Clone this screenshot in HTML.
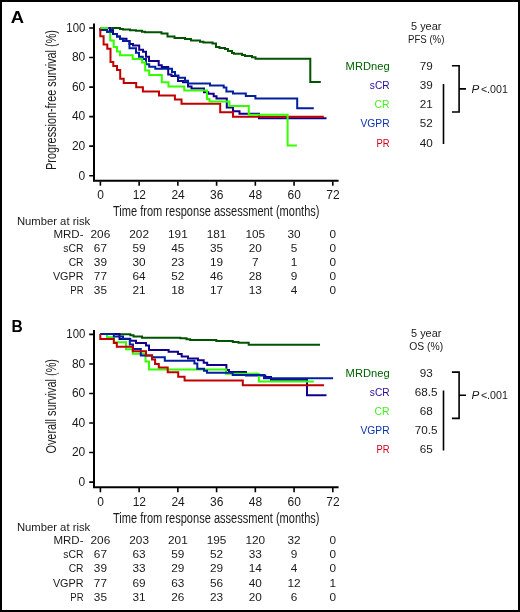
<!DOCTYPE html>
<html><head><meta charset="utf-8"><style>
html,body{margin:0;padding:0;background:#fff;}
svg{display:block;will-change:transform;}
text{font-family:"Liberation Sans", sans-serif;}
</style></head><body>
<svg width="520" height="612" viewBox="0 0 520 612">
<rect x="0" y="0" width="520" height="612" fill="#fff"/>
<g transform="translate(0,0)">
<text x="10.8" y="22.9" font-size="17.4" font-weight="bold" fill="#000" textLength="13.3" lengthAdjust="spacingAndGlyphs">A</text>
<path d="M94,23.5 V181.8 M93,180.8 H338.6" stroke="#000" stroke-width="2" fill="none"/>
<path d="M89.2,28.0 H93.5 M89.2,57.54 H93.5 M89.2,87.08 H93.5 M89.2,116.62 H93.5 M89.2,146.16 H93.5 M89.2,175.7 H93.5 M100.40,181.5 V185.8 M139.13,181.5 V185.8 M177.87,181.5 V185.8 M216.60,181.5 V185.8 M255.33,181.5 V185.8 M294.06,181.5 V185.8 M332.80,181.5 V185.8 " stroke="#000" stroke-width="1.6" fill="none"/>
<text x="85.30" y="31.80" font-size="12" text-anchor="end" textLength="19.0" lengthAdjust="spacingAndGlyphs" fill="#1a1a1a">100</text>
<text x="85.30" y="61.34" font-size="12" text-anchor="end" fill="#1a1a1a">80</text>
<text x="85.30" y="90.88" font-size="12" text-anchor="end" fill="#1a1a1a">60</text>
<text x="85.30" y="120.42" font-size="12" text-anchor="end" fill="#1a1a1a">40</text>
<text x="85.30" y="149.96" font-size="12" text-anchor="end" fill="#1a1a1a">20</text>
<text x="85.30" y="179.50" font-size="12" text-anchor="end" fill="#1a1a1a">0</text>
<text x="100.60" y="199.30" font-size="12" text-anchor="middle" fill="#1a1a1a">0</text>
<text x="139.33" y="199.30" font-size="12" text-anchor="middle" fill="#1a1a1a">12</text>
<text x="178.07" y="199.30" font-size="12" text-anchor="middle" fill="#1a1a1a">24</text>
<text x="216.80" y="199.30" font-size="12" text-anchor="middle" fill="#1a1a1a">36</text>
<text x="255.53" y="199.30" font-size="12" text-anchor="middle" fill="#1a1a1a">48</text>
<text x="294.26" y="199.30" font-size="12" text-anchor="middle" fill="#1a1a1a">60</text>
<text x="333.00" y="199.30" font-size="12" text-anchor="middle" fill="#1a1a1a">72</text>
<text x="113.00" y="216.30" font-size="14.9" textLength="206.5" lengthAdjust="spacingAndGlyphs" fill="#1a1a1a">Time from response assessment (months)</text>
<text transform="translate(55.7,169.9) rotate(-90)" x="0" y="0" font-size="14.8" textLength="139.8" lengthAdjust="spacingAndGlyphs" fill="#1a1a1a">Progression-free survival (%)</text>
<text x="426.20" y="30.40" font-size="11.7" text-anchor="middle" textLength="30.3" lengthAdjust="spacingAndGlyphs" fill="#1a1a1a">5 year</text>
<text x="426.20" y="43.40" font-size="11.7" text-anchor="middle" textLength="36.4" lengthAdjust="spacingAndGlyphs" fill="#1a1a1a">PFS (%)</text>
<text x="389.60" y="70.30" font-size="11.7" text-anchor="end" textLength="44.0" lengthAdjust="spacingAndGlyphs" fill="#006000">MRDneg</text>
<text x="426.20" y="70.30" font-size="11.7" text-anchor="middle" fill="#1a1a1a">79</text>
<text x="389.60" y="89.35" font-size="11.7" text-anchor="end" textLength="19.8" lengthAdjust="spacingAndGlyphs" fill="#2a0aa0">sCR</text>
<text x="426.20" y="89.35" font-size="11.7" text-anchor="middle" fill="#1a1a1a">39</text>
<text x="389.60" y="108.40" font-size="11.7" text-anchor="end" textLength="15.0" lengthAdjust="spacingAndGlyphs" fill="#44f020">CR</text>
<text x="426.20" y="108.40" font-size="11.7" text-anchor="middle" fill="#1a1a1a">21</text>
<text x="389.60" y="127.45" font-size="11.7" text-anchor="end" textLength="29.200000000000003" lengthAdjust="spacingAndGlyphs" fill="#0a30b0">VGPR</text>
<text x="426.20" y="127.45" font-size="11.7" text-anchor="middle" fill="#1a1a1a">52</text>
<text x="389.60" y="146.50" font-size="11.7" text-anchor="end" textLength="13.1" lengthAdjust="spacingAndGlyphs" fill="#d0001c">PR</text>
<text x="426.20" y="146.50" font-size="11.7" text-anchor="middle" fill="#1a1a1a">40</text>
<path d="M443.5,84 V144 M451.9,65.75 H459.1 V112 H451.9 M459.1,88.85 H466" stroke="#000" stroke-width="1.6" fill="none"/>
<text x="471.6" y="92.8" font-size="11.7" font-style="italic" fill="#1a1a1a">P</text>
<text x="480.90" y="92.80" font-size="11.7" textLength="27" lengthAdjust="spacingAndGlyphs" fill="#1a1a1a">&lt;.001</text>
<text x="16.90" y="224.80" font-size="11.8" textLength="73.3" lengthAdjust="spacingAndGlyphs" fill="#1a1a1a">Number at risk</text>
<text x="83.50" y="237.60" font-size="11.8" text-anchor="end" textLength="30.1" lengthAdjust="spacingAndGlyphs" fill="#1a1a1a">MRD-</text>
<text x="100.40" y="237.60" font-size="11.8" text-anchor="middle" fill="#1a1a1a">206</text>
<text x="139.13" y="237.60" font-size="11.8" text-anchor="middle" fill="#1a1a1a">202</text>
<text x="177.87" y="237.60" font-size="11.8" text-anchor="middle" fill="#1a1a1a">191</text>
<text x="216.60" y="237.60" font-size="11.8" text-anchor="middle" fill="#1a1a1a">181</text>
<text x="255.33" y="237.60" font-size="11.8" text-anchor="middle" fill="#1a1a1a">105</text>
<text x="294.06" y="237.60" font-size="11.8" text-anchor="middle" fill="#1a1a1a">30</text>
<text x="332.80" y="237.60" font-size="11.8" text-anchor="middle" fill="#1a1a1a">0</text>
<text x="83.50" y="251.80" font-size="11.8" text-anchor="end" textLength="20.2" lengthAdjust="spacingAndGlyphs" fill="#1a1a1a">sCR</text>
<text x="100.40" y="251.80" font-size="11.8" text-anchor="middle" fill="#1a1a1a">67</text>
<text x="139.13" y="251.80" font-size="11.8" text-anchor="middle" fill="#1a1a1a">59</text>
<text x="177.87" y="251.80" font-size="11.8" text-anchor="middle" fill="#1a1a1a">45</text>
<text x="216.60" y="251.80" font-size="11.8" text-anchor="middle" fill="#1a1a1a">35</text>
<text x="255.33" y="251.80" font-size="11.8" text-anchor="middle" fill="#1a1a1a">20</text>
<text x="294.06" y="251.80" font-size="11.8" text-anchor="middle" fill="#1a1a1a">5</text>
<text x="332.80" y="251.80" font-size="11.8" text-anchor="middle" fill="#1a1a1a">0</text>
<text x="83.50" y="266.00" font-size="11.8" text-anchor="end" textLength="14.8" lengthAdjust="spacingAndGlyphs" fill="#1a1a1a">CR</text>
<text x="100.40" y="266.00" font-size="11.8" text-anchor="middle" fill="#1a1a1a">39</text>
<text x="139.13" y="266.00" font-size="11.8" text-anchor="middle" fill="#1a1a1a">30</text>
<text x="177.87" y="266.00" font-size="11.8" text-anchor="middle" fill="#1a1a1a">23</text>
<text x="216.60" y="266.00" font-size="11.8" text-anchor="middle" fill="#1a1a1a">19</text>
<text x="255.33" y="266.00" font-size="11.8" text-anchor="middle" fill="#1a1a1a">7</text>
<text x="294.06" y="266.00" font-size="11.8" text-anchor="middle" fill="#1a1a1a">1</text>
<text x="332.80" y="266.00" font-size="11.8" text-anchor="middle" fill="#1a1a1a">0</text>
<text x="83.50" y="280.20" font-size="11.8" text-anchor="end" textLength="30.6" lengthAdjust="spacingAndGlyphs" fill="#1a1a1a">VGPR</text>
<text x="100.40" y="280.20" font-size="11.8" text-anchor="middle" fill="#1a1a1a">77</text>
<text x="139.13" y="280.20" font-size="11.8" text-anchor="middle" fill="#1a1a1a">64</text>
<text x="177.87" y="280.20" font-size="11.8" text-anchor="middle" fill="#1a1a1a">52</text>
<text x="216.60" y="280.20" font-size="11.8" text-anchor="middle" fill="#1a1a1a">46</text>
<text x="255.33" y="280.20" font-size="11.8" text-anchor="middle" fill="#1a1a1a">28</text>
<text x="294.06" y="280.20" font-size="11.8" text-anchor="middle" fill="#1a1a1a">9</text>
<text x="332.80" y="280.20" font-size="11.8" text-anchor="middle" fill="#1a1a1a">0</text>
<text x="83.50" y="294.40" font-size="11.8" text-anchor="end" textLength="13.2" lengthAdjust="spacingAndGlyphs" fill="#1a1a1a">PR</text>
<text x="100.40" y="294.40" font-size="11.8" text-anchor="middle" fill="#1a1a1a">35</text>
<text x="139.13" y="294.40" font-size="11.8" text-anchor="middle" fill="#1a1a1a">21</text>
<text x="177.87" y="294.40" font-size="11.8" text-anchor="middle" fill="#1a1a1a">18</text>
<text x="216.60" y="294.40" font-size="11.8" text-anchor="middle" fill="#1a1a1a">17</text>
<text x="255.33" y="294.40" font-size="11.8" text-anchor="middle" fill="#1a1a1a">13</text>
<text x="294.06" y="294.40" font-size="11.8" text-anchor="middle" fill="#1a1a1a">4</text>
<text x="332.80" y="294.40" font-size="11.8" text-anchor="middle" fill="#1a1a1a">0</text>
</g>
<g transform="translate(0,306.4)">
<text x="11.4" y="25.799999999999997" font-size="17.4" font-weight="bold" fill="#000" textLength="11.2" lengthAdjust="spacingAndGlyphs">B</text>
<path d="M94,23.5 V181.8 M93,180.8 H338.6" stroke="#000" stroke-width="2" fill="none"/>
<path d="M89.2,28.0 H93.5 M89.2,57.54 H93.5 M89.2,87.08 H93.5 M89.2,116.62 H93.5 M89.2,146.16 H93.5 M89.2,175.7 H93.5 M100.40,181.5 V185.8 M139.13,181.5 V185.8 M177.87,181.5 V185.8 M216.60,181.5 V185.8 M255.33,181.5 V185.8 M294.06,181.5 V185.8 M332.80,181.5 V185.8 " stroke="#000" stroke-width="1.6" fill="none"/>
<text x="85.30" y="31.80" font-size="12" text-anchor="end" textLength="19.0" lengthAdjust="spacingAndGlyphs" fill="#1a1a1a">100</text>
<text x="85.30" y="61.34" font-size="12" text-anchor="end" fill="#1a1a1a">80</text>
<text x="85.30" y="90.88" font-size="12" text-anchor="end" fill="#1a1a1a">60</text>
<text x="85.30" y="120.42" font-size="12" text-anchor="end" fill="#1a1a1a">40</text>
<text x="85.30" y="149.96" font-size="12" text-anchor="end" fill="#1a1a1a">20</text>
<text x="85.30" y="179.50" font-size="12" text-anchor="end" fill="#1a1a1a">0</text>
<text x="100.60" y="199.30" font-size="12" text-anchor="middle" fill="#1a1a1a">0</text>
<text x="139.33" y="199.30" font-size="12" text-anchor="middle" fill="#1a1a1a">12</text>
<text x="178.07" y="199.30" font-size="12" text-anchor="middle" fill="#1a1a1a">24</text>
<text x="216.80" y="199.30" font-size="12" text-anchor="middle" fill="#1a1a1a">36</text>
<text x="255.53" y="199.30" font-size="12" text-anchor="middle" fill="#1a1a1a">48</text>
<text x="294.26" y="199.30" font-size="12" text-anchor="middle" fill="#1a1a1a">60</text>
<text x="333.00" y="199.30" font-size="12" text-anchor="middle" fill="#1a1a1a">72</text>
<text x="113.00" y="216.30" font-size="14.9" textLength="206.5" lengthAdjust="spacingAndGlyphs" fill="#1a1a1a">Time from response assessment (months)</text>
<text transform="translate(55.7,147.20000000000005) rotate(-90)" x="0" y="0" font-size="14.8" textLength="94.6" lengthAdjust="spacingAndGlyphs" fill="#1a1a1a">Overall survival (%)</text>
<text x="426.20" y="30.40" font-size="11.7" text-anchor="middle" textLength="30.3" lengthAdjust="spacingAndGlyphs" fill="#1a1a1a">5 year</text>
<text x="426.20" y="43.40" font-size="11.7" text-anchor="middle" textLength="34" lengthAdjust="spacingAndGlyphs" fill="#1a1a1a">OS (%)</text>
<text x="389.60" y="70.30" font-size="11.7" text-anchor="end" textLength="44.0" lengthAdjust="spacingAndGlyphs" fill="#006000">MRDneg</text>
<text x="426.20" y="70.30" font-size="11.7" text-anchor="middle" fill="#1a1a1a">93</text>
<text x="389.60" y="89.35" font-size="11.7" text-anchor="end" textLength="19.8" lengthAdjust="spacingAndGlyphs" fill="#2a0aa0">sCR</text>
<text x="426.20" y="89.35" font-size="11.7" text-anchor="middle" fill="#1a1a1a">68.5</text>
<text x="389.60" y="108.40" font-size="11.7" text-anchor="end" textLength="15.0" lengthAdjust="spacingAndGlyphs" fill="#44f020">CR</text>
<text x="426.20" y="108.40" font-size="11.7" text-anchor="middle" fill="#1a1a1a">68</text>
<text x="389.60" y="127.45" font-size="11.7" text-anchor="end" textLength="29.200000000000003" lengthAdjust="spacingAndGlyphs" fill="#0a30b0">VGPR</text>
<text x="426.20" y="127.45" font-size="11.7" text-anchor="middle" fill="#1a1a1a">70.5</text>
<text x="389.60" y="146.50" font-size="11.7" text-anchor="end" textLength="13.1" lengthAdjust="spacingAndGlyphs" fill="#d0001c">PR</text>
<text x="426.20" y="146.50" font-size="11.7" text-anchor="middle" fill="#1a1a1a">65</text>
<path d="M443.5,84 V144 M451.9,65.75 H459.1 V112 H451.9 M459.1,88.85 H466" stroke="#000" stroke-width="1.6" fill="none"/>
<text x="471.6" y="92.8" font-size="11.7" font-style="italic" fill="#1a1a1a">P</text>
<text x="480.90" y="92.80" font-size="11.7" textLength="27" lengthAdjust="spacingAndGlyphs" fill="#1a1a1a">&lt;.001</text>
<text x="16.90" y="224.80" font-size="11.8" textLength="73.3" lengthAdjust="spacingAndGlyphs" fill="#1a1a1a">Number at risk</text>
<text x="83.50" y="237.60" font-size="11.8" text-anchor="end" textLength="30.1" lengthAdjust="spacingAndGlyphs" fill="#1a1a1a">MRD-</text>
<text x="100.40" y="237.60" font-size="11.8" text-anchor="middle" fill="#1a1a1a">206</text>
<text x="139.13" y="237.60" font-size="11.8" text-anchor="middle" fill="#1a1a1a">203</text>
<text x="177.87" y="237.60" font-size="11.8" text-anchor="middle" fill="#1a1a1a">201</text>
<text x="216.60" y="237.60" font-size="11.8" text-anchor="middle" fill="#1a1a1a">195</text>
<text x="255.33" y="237.60" font-size="11.8" text-anchor="middle" fill="#1a1a1a">120</text>
<text x="294.06" y="237.60" font-size="11.8" text-anchor="middle" fill="#1a1a1a">32</text>
<text x="332.80" y="237.60" font-size="11.8" text-anchor="middle" fill="#1a1a1a">0</text>
<text x="83.50" y="251.80" font-size="11.8" text-anchor="end" textLength="20.2" lengthAdjust="spacingAndGlyphs" fill="#1a1a1a">sCR</text>
<text x="100.40" y="251.80" font-size="11.8" text-anchor="middle" fill="#1a1a1a">67</text>
<text x="139.13" y="251.80" font-size="11.8" text-anchor="middle" fill="#1a1a1a">63</text>
<text x="177.87" y="251.80" font-size="11.8" text-anchor="middle" fill="#1a1a1a">59</text>
<text x="216.60" y="251.80" font-size="11.8" text-anchor="middle" fill="#1a1a1a">52</text>
<text x="255.33" y="251.80" font-size="11.8" text-anchor="middle" fill="#1a1a1a">33</text>
<text x="294.06" y="251.80" font-size="11.8" text-anchor="middle" fill="#1a1a1a">9</text>
<text x="332.80" y="251.80" font-size="11.8" text-anchor="middle" fill="#1a1a1a">0</text>
<text x="83.50" y="266.00" font-size="11.8" text-anchor="end" textLength="14.8" lengthAdjust="spacingAndGlyphs" fill="#1a1a1a">CR</text>
<text x="100.40" y="266.00" font-size="11.8" text-anchor="middle" fill="#1a1a1a">39</text>
<text x="139.13" y="266.00" font-size="11.8" text-anchor="middle" fill="#1a1a1a">33</text>
<text x="177.87" y="266.00" font-size="11.8" text-anchor="middle" fill="#1a1a1a">29</text>
<text x="216.60" y="266.00" font-size="11.8" text-anchor="middle" fill="#1a1a1a">29</text>
<text x="255.33" y="266.00" font-size="11.8" text-anchor="middle" fill="#1a1a1a">14</text>
<text x="294.06" y="266.00" font-size="11.8" text-anchor="middle" fill="#1a1a1a">4</text>
<text x="332.80" y="266.00" font-size="11.8" text-anchor="middle" fill="#1a1a1a">0</text>
<text x="83.50" y="280.20" font-size="11.8" text-anchor="end" textLength="30.6" lengthAdjust="spacingAndGlyphs" fill="#1a1a1a">VGPR</text>
<text x="100.40" y="280.20" font-size="11.8" text-anchor="middle" fill="#1a1a1a">77</text>
<text x="139.13" y="280.20" font-size="11.8" text-anchor="middle" fill="#1a1a1a">69</text>
<text x="177.87" y="280.20" font-size="11.8" text-anchor="middle" fill="#1a1a1a">63</text>
<text x="216.60" y="280.20" font-size="11.8" text-anchor="middle" fill="#1a1a1a">56</text>
<text x="255.33" y="280.20" font-size="11.8" text-anchor="middle" fill="#1a1a1a">40</text>
<text x="294.06" y="280.20" font-size="11.8" text-anchor="middle" fill="#1a1a1a">12</text>
<text x="332.80" y="280.20" font-size="11.8" text-anchor="middle" fill="#1a1a1a">1</text>
<text x="83.50" y="294.40" font-size="11.8" text-anchor="end" textLength="13.2" lengthAdjust="spacingAndGlyphs" fill="#1a1a1a">PR</text>
<text x="100.40" y="294.40" font-size="11.8" text-anchor="middle" fill="#1a1a1a">35</text>
<text x="139.13" y="294.40" font-size="11.8" text-anchor="middle" fill="#1a1a1a">31</text>
<text x="177.87" y="294.40" font-size="11.8" text-anchor="middle" fill="#1a1a1a">26</text>
<text x="216.60" y="294.40" font-size="11.8" text-anchor="middle" fill="#1a1a1a">23</text>
<text x="255.33" y="294.40" font-size="11.8" text-anchor="middle" fill="#1a1a1a">20</text>
<text x="294.06" y="294.40" font-size="11.8" text-anchor="middle" fill="#1a1a1a">6</text>
<text x="332.80" y="294.40" font-size="11.8" text-anchor="middle" fill="#1a1a1a">0</text>
</g>
<path d="M100.3,28 H120 V29 H123 V29.5 H130 V30.3 H136 V30.8 H142 V31.7 H145 V32.2 H161.5 V33.5 H167.5 V36.5 H174.5 V38 H185 V39 H191 V40.6 H200 V41.7 H203.5 V42.5 H212.5 V43.5 H216 V47 H219.5 V48 H225 V49 H228 V51 H232 V53 H234 V53.7 H242 V55 H245 V56 H252 V57.3 H255.5 V58.7 H310.3 V82 H320.8" stroke="#005300" stroke-width="2" fill="none" stroke-linejoin="miter" stroke-linecap="butt"/>
<path d="M100.3,28 H110 V30.2 H113 V34 H117 V36.5 H120 V38.7 H126.5 V41 H129.5 V44 H133 V45.6 H139.2 V49.8 H143 V51.8 H146 V56.8 H149 V60.9 H158.7 V65.2 H161.8 V67 H168.2 V74.6 H171.5 V76 H178 V81 H183 V82.3 H188 V86.5 H191.5 V88.4 H204 V92.2 H208.3 V93.8 H213.7 V96.2 H216.5 V98.5 H226.8 V107.5 H233 V111.2 H239.5 V113.8 H259 V118.2 H326.5" stroke="#12008c" stroke-width="2" fill="none" stroke-linejoin="miter" stroke-linecap="butt"/>
<path d="M100.3,28 V30 H107.1 V31.8 H113 V34 H117 V36.5 H120 V38.7 H123 V41.1 H129.5 V48.3 H136 V52.8 H139 V56.8 H142.8 V59 H146 V64.2 H149.2 V66.7 H155.3 V68.8 H172 V72 H175 V75.4 H178.5 V77.8 H185 V80.7 H188 V83.6 H210 V85.6 H223.7 V87.4 H226.4 V91.6 H233 V93.4 H245.8 V95.9 H255.4 V98.4 H297.2 V108.2 H313.8" stroke="#0020a0" stroke-width="2" fill="none" stroke-linejoin="miter" stroke-linecap="butt"/>
<path d="M100.3,28 V36.2 H103.6 V44.6 H107.3 V48.8 H110.5 V62 H113.3 V66 H117 V70 H120.2 V78.7 H123.7 V83 H136.2 V87.2 H142.9 V91.4 H159 V95.5 H174.9 V99.5 H181.5 V103.8 H220.2 V112.3 H233 V116.7 H323.8" stroke="#c00000" stroke-width="2" fill="none" stroke-linejoin="miter" stroke-linecap="butt"/>
<path d="M100.3,28 H110.2 V40.4 H113.7 V47 H117 V51.5 H120 V55.3 H132.7 V59 H142.1 V62.6 H145.2 V70.4 H149.2 V74.9 H161.8 V82.3 H168.5 V86.4 H184.3 V90.5 H207 V99 H209.5 V101.5 H229.4 V105.9 H248.8 V114.8 H287.6 V145.5 H296.9" stroke="#33ff00" stroke-width="2" fill="none" stroke-linejoin="miter" stroke-linecap="butt"/>
<path d="M108.3,28 H110 V30.2 H113 V34" stroke="#12008c" stroke-width="2" fill="none"/>
<path d="M107.1,30 V31.8 H113" stroke="#0020a0" stroke-width="2" fill="none"/>
<path d="M100.3,334 H118 V334.3 H130.3 V335.3 H133.5 V336.6 H142 V337.7 H180.3 V338.3 H186.5 V339.2 H190.2 V340 H216.3 V341.1 H232.8 V342 H238.5 V342.7 H248.7 V344.7 H320" stroke="#005300" stroke-width="2" fill="none" stroke-linejoin="miter" stroke-linecap="butt"/>
<path d="M100.3,334 H119.5 V339 H130.3 V340.8 H136 V343.1 H146 V345.6 H149 V350 H168.6 V351.7 H178.1 V354.1 H181.7 V356.6 H188 V358.5 H197.9 V360.3 H203.7 V362.7 H207.2 V365.1 H226.4 V370 H229 V372 H246 V375.4 H265.3 V377 H271 V379.7 H307 V395.3 H326.5" stroke="#12008c" stroke-width="2" fill="none" stroke-linejoin="miter" stroke-linecap="butt"/>
<path d="M100.3,334 H107 V337.2 H114 V342.3 H126 V349.3 H132.8 V353.7 H145.5 V361.5 H149 V369.4 H226 V373.8 H258.8 V381.5 H313.8" stroke="#33ff00" stroke-width="2" fill="none" stroke-linejoin="miter" stroke-linecap="butt"/>
<path d="M100.3,334 H113.8 V336.4 H123 V338.7 H129.8 V344.4 H133 V349.1 H140.8 V355.4 H152.2 V357.3 H164.8 V360.8 H194.4 V363.6 H197.3 V368.8 H204 V370.7 H207 V372.7 H232.7 V375 H264 V378.2 H333.1" stroke="#0020a0" stroke-width="2" fill="none" stroke-linejoin="miter" stroke-linecap="butt"/>
<path d="M100.3,334 V339 H113.8 V343.1 H116.8 V346.8 H132.8 V351.2 H146 V355.4 H152 V359.5 H155.1 V363.9 H158.8 V367.5 H167.7 V372.3 H178.2 V376.8 H184.6 V380.5 H242.8 V385.3 H324" stroke="#c00000" stroke-width="2" fill="none" stroke-linejoin="miter" stroke-linecap="butt"/>
<rect x="1" y="1" width="518" height="610" fill="none" stroke="#000" stroke-width="2"/>
</svg>
</body></html>
